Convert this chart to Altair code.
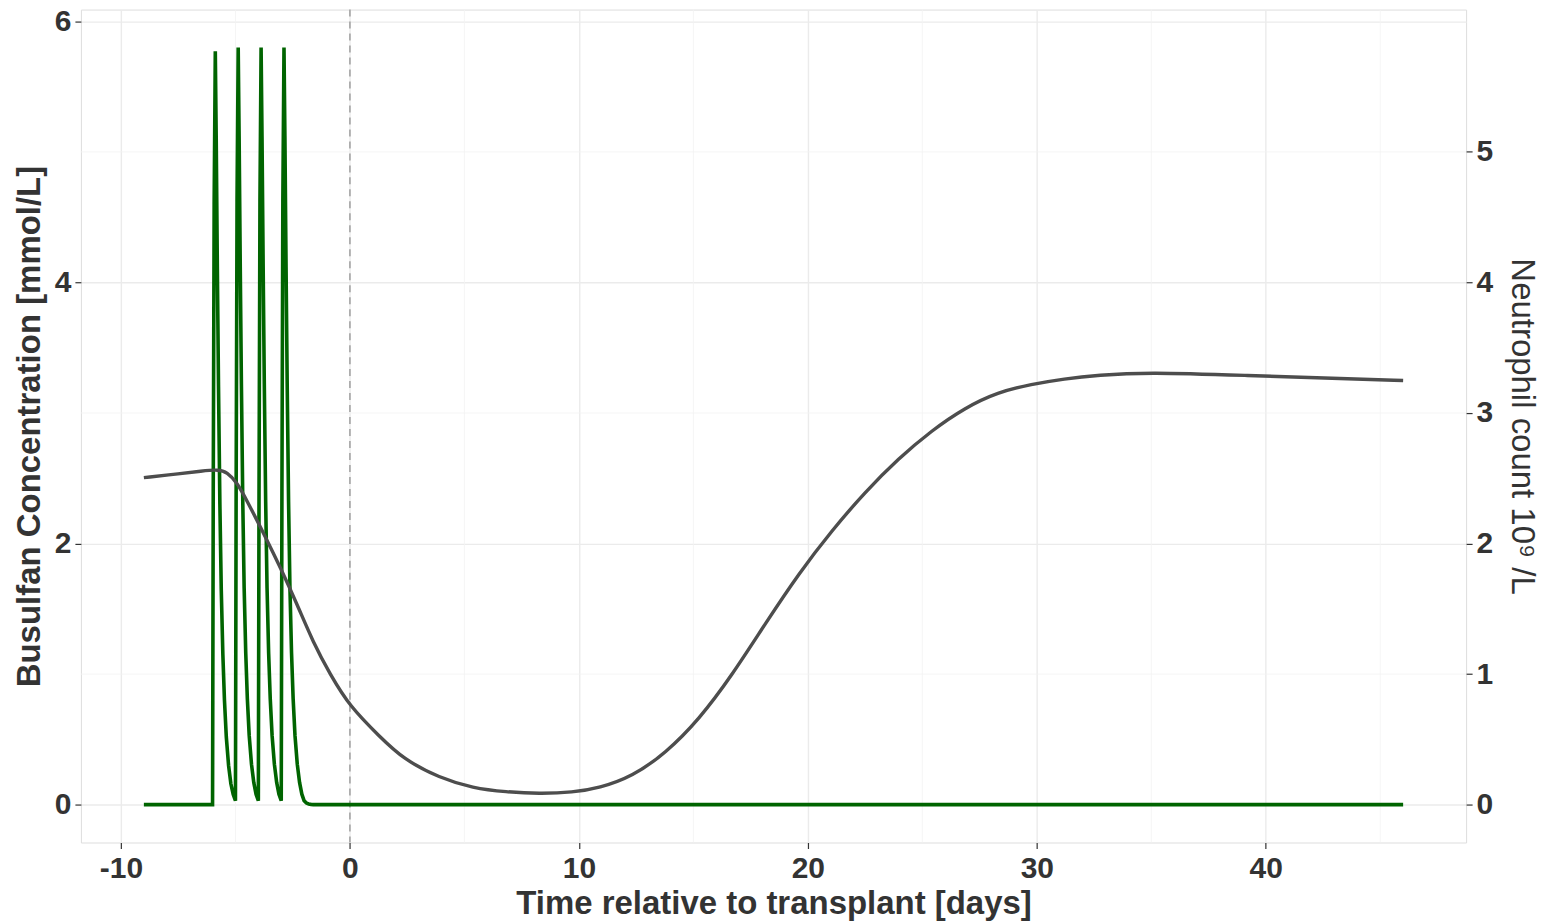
import altair as alt
import pandas as pd

# ---------------- data ----------------
busulfan_day = [
    -9.00, -6.00, -5.97, -5.93, -5.88, -5.84, -5.79, -5.74, -5.68, -5.62, -5.55, -5.48, -5.40, -5.30, -5.20, -5.10, -5.00,
    -4.97, -4.93, -4.88, -4.84, -4.79, -4.74, -4.68, -4.62, -4.55, -4.48, -4.40, -4.30, -4.20, -4.10, -4.00,
    -3.97, -3.93, -3.88, -3.84, -3.79, -3.74, -3.68, -3.62, -3.55, -3.48, -3.40, -3.30, -3.20, -3.10, -3.00,
    -2.97, -2.93, -2.88, -2.84, -2.79, -2.74, -2.68, -2.62, -2.55, -2.48, -2.40, -2.30, -2.20, -2.10, -2.00,
    -1.90, -1.80, -1.70, -1.60, 46.00,
]
busulfan_conc = [
    0.00, 0.00, 2.40, 4.60, 5.77, 5.10, 4.10, 3.20, 2.30, 1.65, 1.15, 0.80, 0.52, 0.30, 0.16, 0.08, 0.03,
    2.42, 4.62, 5.80, 5.12, 4.12, 3.22, 2.32, 1.66, 1.16, 0.81, 0.53, 0.31, 0.17, 0.08, 0.03,
    2.42, 4.62, 5.80, 5.12, 4.12, 3.22, 2.32, 1.66, 1.16, 0.81, 0.53, 0.31, 0.17, 0.08, 0.03,
    2.42, 4.62, 5.80, 5.12, 4.12, 3.22, 2.32, 1.66, 1.16, 0.81, 0.53, 0.31, 0.17, 0.08, 0.03,
    0.012, 0.005, 0.002, 0.00, 0.00,
]

neut_day = [
    -9.00, -7.40, -6.50, -5.73, -5.37, -4.94, -4.50, -3.63, -3.05, -2.32, -1.60, -0.87, 0.00,
    1.31, 2.32, 3.92, 5.37, 6.82, 8.27, 9.73, 10.89, 12.34, 13.79, 15.24, 16.70,
    18.15, 19.60, 21.05, 22.50, 23.95, 25.40, 26.86, 28.30, 29.76, 31.20, 32.66,
    34.84, 39.20, 43.55, 46.00,
]
neut_count = [
    2.505, 2.536, 2.555, 2.567, 2.548, 2.470, 2.330, 2.030, 1.820, 1.540, 1.240, 1.000, 0.750,
    0.520, 0.350, 0.204, 0.127, 0.097, 0.084, 0.094, 0.127, 0.216, 0.395, 0.650, 0.994,
    1.389, 1.770, 2.100, 2.395, 2.650, 2.865, 3.040, 3.160, 3.220, 3.262, 3.290,
    3.313, 3.287, 3.262, 3.249,
]

x_major = [-10, 0, 10, 20, 30, 40]
x_minor = [-5, 5, 15, 25, 35, 45]
y_left_ticks = [0, 2, 4, 6]
y_right_ticks = [0, 1, 2, 3, 4, 5]
y_minor = [1, 3, 5]
transplant_day = [0]

x_title = "Time relative to transplant [days]"
y_left_title = "Busulfan Concentration [mmol/L]"
y_right_title = "Neutrophil count 10\u2079 /L"

# ---------------- chart ----------------
FONT = "Liberation Sans"
TXT = "#333333"
PLAIN = "toString(datum.value)"

xs = alt.Scale(domain=[-11.75, 48.75], nice=False, zero=False)
ys = alt.Scale(domain=[-0.29, 6.09], nice=False, zero=False)

bus_df = pd.DataFrame({"day": busulfan_day, "conc": busulfan_conc})
neut_df = pd.DataFrame({"day": neut_day, "count": neut_count})

x_axis = alt.Axis(
    values=x_major, title=x_title, grid=True, gridColor="#EBEBEB", gridWidth=1.4,
    labelFontSize=30, labelFontWeight="bold", labelColor=TXT, labelFont=FONT,
    titleFontSize=33, titleFontWeight="bold", titleColor=TXT, titleFont=FONT,
    tickColor=TXT, tickSize=6, tickWidth=1.2, domain=False, labelPadding=5,
    titlePadding=4, labelExpr=PLAIN,
)
y_left_axis = alt.Axis(
    values=y_left_ticks, title=y_left_title, grid=True, gridColor="#EBEBEB", gridWidth=1.4,
    labelFontSize=30, labelFontWeight="bold", labelColor=TXT, labelFont=FONT,
    titleFontSize=33, titleFontWeight="bold", titleColor=TXT, titleFont=FONT,
    tickColor=TXT, tickSize=6, tickWidth=1.2, domain=False, labelPadding=4,
    titlePadding=8, labelExpr=PLAIN, orient="left",
)
y_right_axis = alt.Axis(
    values=y_right_ticks, title=y_right_title, grid=False,
    labelFontSize=30, labelFontWeight="bold", labelColor=TXT, labelFont=FONT,
    titleFontSize=33, titleFontWeight="normal", titleColor=TXT, titleFont=FONT,
    tickColor=TXT, tickSize=6, tickWidth=1.2, domain=False, labelPadding=4,
    titlePadding=12, labelExpr=PLAIN, orient="right",
)

X = alt.X("x:Q", scale=xs, axis=x_axis)
XD = alt.X("day:Q", scale=xs, axis=x_axis)

minor_v = alt.Chart(pd.DataFrame({"x": x_minor})).mark_rule(
    color="#F3F3F3", strokeWidth=0.8
).encode(x=X)

minor_h = alt.Chart(pd.DataFrame({"y": y_minor})).mark_rule(
    color="#F3F3F3", strokeWidth=0.8
).encode(y=alt.Y("y:Q", scale=ys, axis=None))

vline = alt.Chart(pd.DataFrame({"x": transplant_day})).mark_rule(
    color="#999999", strokeWidth=1.4, strokeDash=[7, 5]
).encode(x=X)

green = alt.Chart(bus_df).mark_line(color="#006400", strokeWidth=3.6).encode(
    x=XD,
    y=alt.Y("conc:Q", scale=ys, axis=y_left_axis),
    order="day:Q",
)

gray = alt.Chart(neut_df).mark_line(
    color="#4D4D4D", strokeWidth=3.4, interpolate="basis"
).encode(
    x=XD,
    y=alt.Y("count:Q", scale=ys, axis=y_right_axis),
    order="day:Q",
)

chart = (
    alt.layer(minor_v, minor_h, vline, green, gray)
    .resolve_scale(y="independent")
    .properties(
        width=1387,
        height=834,
        autosize=alt.AutoSizeParams(type="none"),
        padding={"left": 73, "top": 1, "right": 78, "bottom": 78},
    )
    .configure_view(stroke="#333333", strokeWidth=1.2)
    .configure(background="white")
)

chart.save("out.html", embed_options={"renderer": "svg", "actions": False})
